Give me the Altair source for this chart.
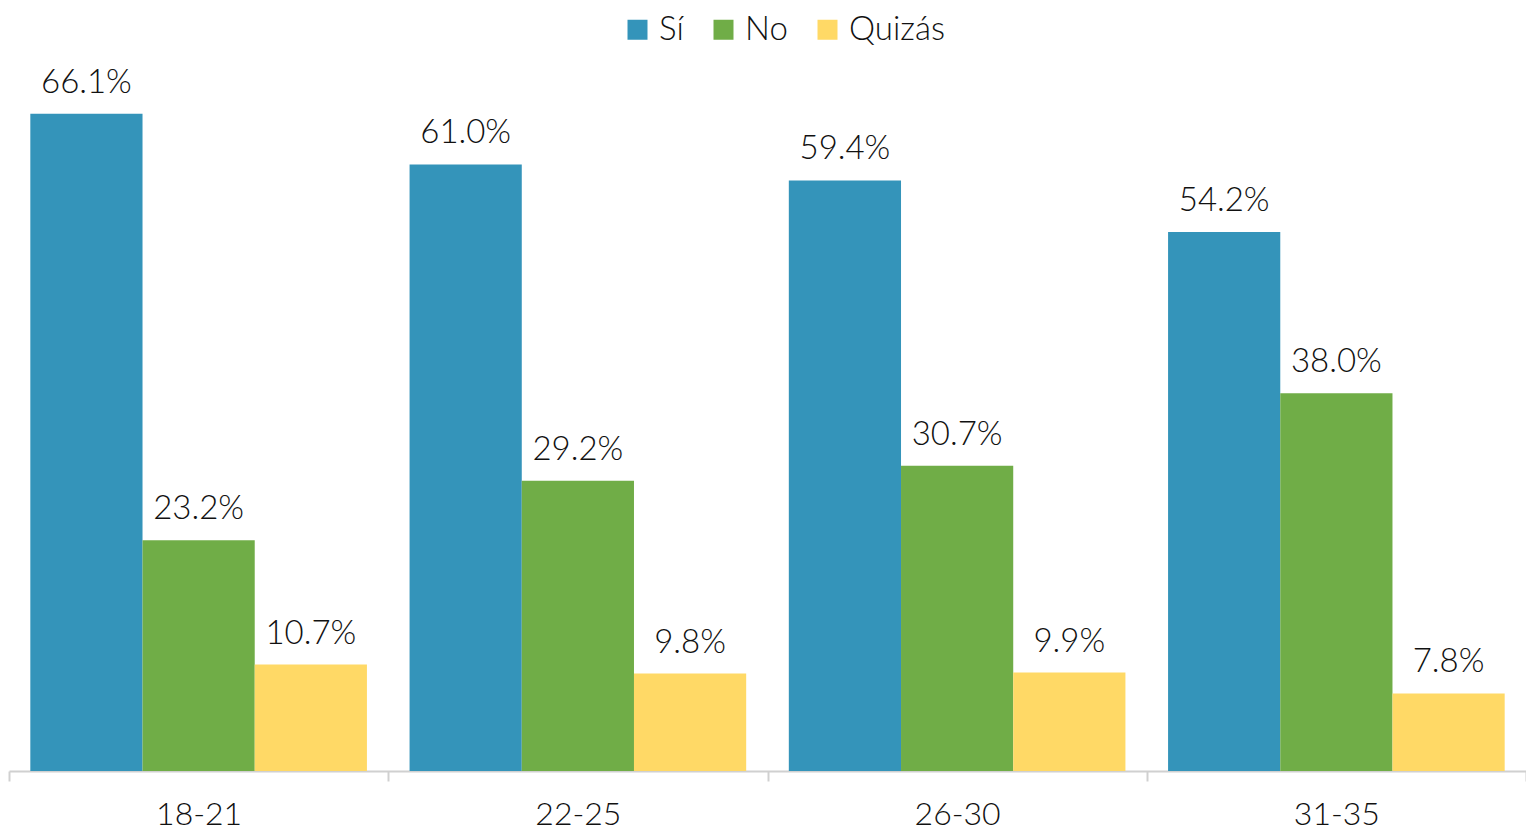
import altair as alt
import pandas as pd

groups = ["18-21", "22-25", "26-30", "31-35"]
series = ["Sí", "No", "Quizás"]
si = [66.1, 61.0, 59.4, 54.2]
no = [23.2, 29.2, 30.7, 38.0]
quizas = [10.7, 9.8, 9.9, 7.8]
colors = ["#3494BA", "#70AD47", "#FFD966"]

rows = []
for i, g in enumerate(groups):
    for s, vals in zip(series, [si, no, quizas]):
        rows.append({"grupo": g, "respuesta": s, "valor": vals[i],
                     "etiqueta": f"{vals[i]:.1f}%"})
df = pd.DataFrame(rows)

FONT = "Lato"

x = alt.X("grupo:N", sort=groups, title=None,
          scale=alt.Scale(paddingInner=0, paddingOuter=0),
          axis=alt.Axis(labelAngle=0, labelFontSize=32, labelFont=FONT,
                        labelFontWeight=300,
                        labelColor="#111111", domainColor="#d0d0d0",
                        domainWidth=2, tickColor="#d0d0d0", tickWidth=2,
                        tickSize=10, tickBand="extent", labelPadding=18))
xo = alt.XOffset("respuesta:N", sort=series,
                 scale=alt.Scale(paddingInner=0, paddingOuter=0.19))
y = alt.Y("valor:Q", scale=alt.Scale(domain=[0, 70]), axis=None)

bars = alt.Chart(df).mark_bar().encode(
    x=x, xOffset=xo, y=y,
    color=alt.Color("respuesta:N", sort=series,
                    scale=alt.Scale(domain=series, range=colors),
                    legend=alt.Legend(title=None, orient="none", direction="horizontal",
                                      legendX=612, legendY=-62,
                                      symbolType="square", symbolSize=400,
                                      symbolStrokeWidth=0, labelFontSize=33,
                                      labelFont=FONT, labelFontWeight=300,
                                      labelColor="#111111",
                                      labelOffset=5, columnPadding=23))
)

labels = alt.Chart(df).mark_text(baseline="alphabetic", dy=-21, fontSize=33,
                                 font=FONT, fontWeight=300, color="#111111").encode(
    x=x, xOffset=xo, y=y, text="etiqueta:N"
)

chart = (bars + labels).properties(
    width=1517, height=696,
    autosize=alt.AutoSizeParams(type="none"),
    padding={"left": 1, "top": 67, "right": 0, "bottom": 70},
).configure(background="white").configure_view(stroke=None)

chart.save("out.html", embed_options={"renderer": "svg", "actions": False})
